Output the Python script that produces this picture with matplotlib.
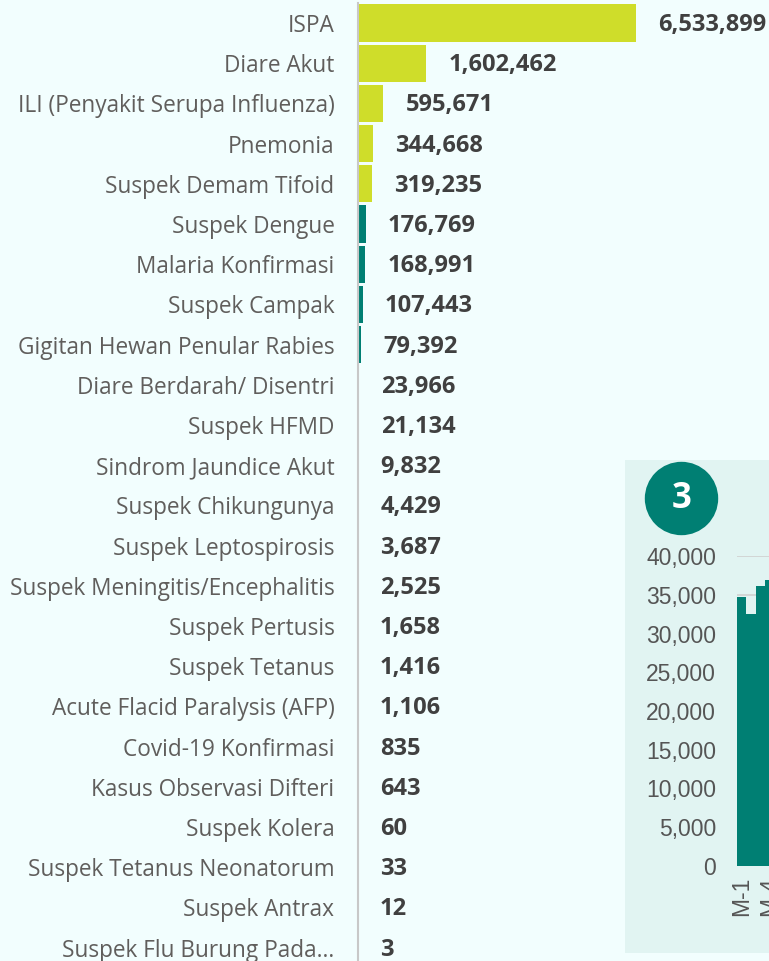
import numpy as np
import matplotlib.pyplot as plt
from matplotlib.patches import Rectangle, Circle

# Data
categories = ["ISPA", "Diare Akut", "ILI (Penyakit Serupa Influenza)", "Pnemonia",
              "Suspek Demam Tifoid", "Suspek Dengue", "Malaria Konfirmasi",
              "Suspek Campak", "Gigitan Hewan Penular Rabies",
              "Diare Berdarah/ Disentri", "Suspek HFMD", "Sindrom Jaundice Akut",
              "Suspek Chikungunya", "Suspek Leptospirosis",
              "Suspek Meningitis/Encephalitis", "Suspek Pertusis", "Suspek Tetanus",
              "Acute Flacid Paralysis (AFP)", "Covid-19 Konfirmasi",
              "Kasus Observasi Difteri", "Suspek Kolera",
              "Suspek Tetanus Neonatorum", "Suspek Antrax",
              "Suspek Flu Burung Pada..."]
cases = [6533899, 1602462, 595671, 344668, 319235, 176769, 168991, 107443, 79392,
         23966, 21134, 9832, 4429, 3687, 2525, 1658, 1416, 1106, 835, 643, 60,
         33, 12, 3]
n_top = 5

# inset weekly chart (only first weeks visible)
weeks = ["M-1", "M-2", "M-3", "M-4"]
weekly = [34750, 32500, 36100, 36900]

W, H = 769, 961
bg = "#F2FEFE"
lime = "#CFDD2A"
teal = "#007F73"

fig = plt.figure(figsize=(W / 100, H / 100), dpi=100, facecolor=bg)

# Main horizontal bar chart
row = 40.2
top_px = 23 - row / 2
bot_px = 23 + row * 23 + row / 2
ax_left, ax_right = 358, 769
ax = fig.add_axes([ax_left / W, 1 - bot_px / H, (ax_right - ax_left) / W, (bot_px - top_px) / H])
ax.set_facecolor("none")
y = np.arange(len(categories))
colors = [lime if i < n_top else teal for i in range(len(categories))]
ax.barh(y, cases, height=0.93, color=colors, left=0)
ax.set_ylim(len(categories) - 0.5, -0.5)
ax.set_xlim(0, (ax_right - ax_left) / 42.6 * 1e6)
ax.set_yticks(y)
ax.set_yticklabels(categories, fontsize=16.3, color="#605E5C", family="Open Sans")
ax.tick_params(axis="y", length=0, pad=17)
ax.set_xticks([])
for s in ["top", "right", "bottom"]:
    ax.spines[s].set_visible(False)
ax.spines["left"].set_color("#C8C8C8")
ax.spines["left"].set_linewidth(1.5)

for i, v in enumerate(cases):
    ax.annotate(f"{v:,}", (v, i), xytext=(22, -2), textcoords="offset pixels",
                ha="left", va="center", fontsize=17, fontweight="bold",
                color="#404040", family="Open Sans", annotation_clip=False)

# Inset panel
panel = Rectangle((625 / W, 1 - 953 / H), (W - 625) / W + 0.01, (953 - 460) / H,
                  transform=fig.transFigure, facecolor="#E1F4F2", edgecolor="none", zorder=-2)
fig.patches.append(panel)
badge = Circle((6.815, (H - 498.5) / 100), 0.367, transform=fig.dpi_scale_trans,
               facecolor=teal, edgecolor="none", zorder=-1)
fig.patches.append(badge)
fig.text(681.5 / W, 1 - 498.5 / H, "3", ha="center", va="center", fontsize=25,
         fontweight="bold", color="white", family="Open Sans")

bw = 9.35
ix0 = 737
ax2 = fig.add_axes([ix0 / W, 1 - 866 / H, bw * len(weeks) / W, (866 - 556) / H])
ax2.set_facecolor("none")
ax2.bar(np.arange(len(weeks)), weekly, width=1.0, color=teal, zorder=2)
ax2.set_xlim(-0.5, len(weeks) - 0.5)
ax2.set_ylim(0, 40000)
ax2.set_yticks(np.arange(0, 40001, 5000))
ax2.set_yticklabels([f"{t:,}" for t in range(0, 40001, 5000)], fontsize=16.5,
                    color="#555555", family="Liberation Sans")
ax2.tick_params(axis="y", length=0, pad=15)
ax2.set_xticks([0, 3])
ax2.set_xticklabels([weeks[0], weeks[3]], rotation=90, fontsize=16.5,
                    color="#555555", family="Liberation Sans")
ax2.tick_params(axis="x", length=0, pad=8)
ax2.grid(axis="y", color="#D0D0D0", linewidth=1.2, zorder=1)
for s in ax2.spines.values():
    s.set_visible(False)

fig.savefig("out.png", dpi=100, facecolor=bg)
